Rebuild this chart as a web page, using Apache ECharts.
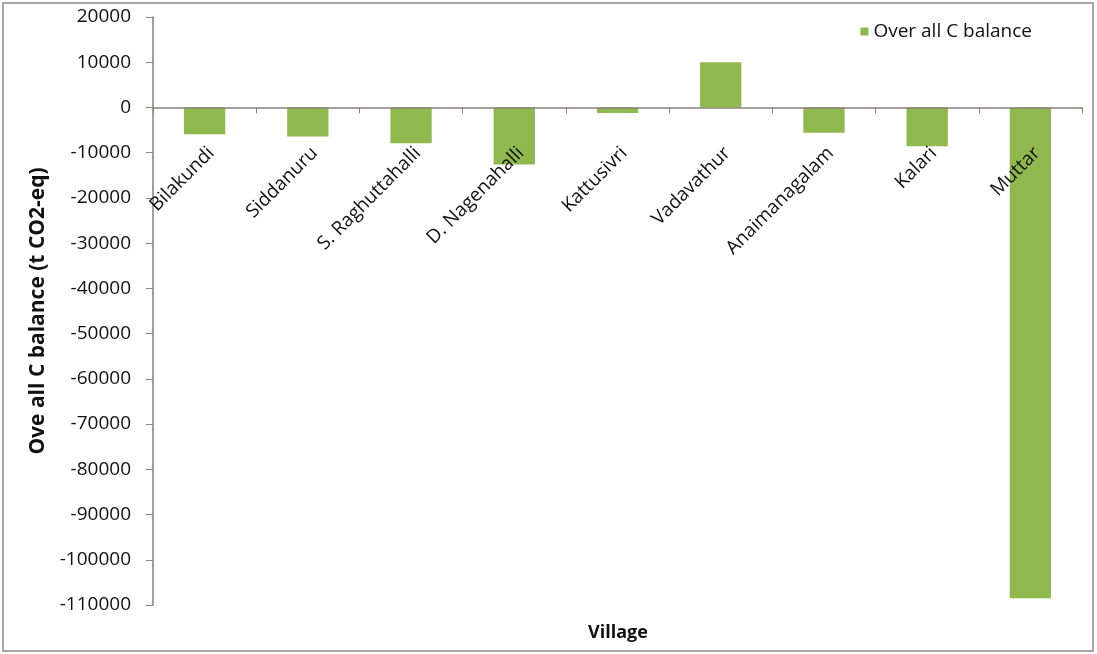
<!DOCTYPE html>
<html>
<head>
<meta charset="utf-8">
<script src="https://cdn.jsdelivr.net/npm/echarts@6/dist/echarts.min.js"></script>
<style>html,body{margin:0;padding:0;background:#fff}#c{width:1097px;height:654px}</style>
</head>
<body>
<div id="c"></div>
<script>
const villages = ['Bilakundi','Siddanuru','S. Raghuttahalli','D. Nagenahalli','Kattusivri','Vadavathur','Anaimanagalam','Kalari','Muttar'];
const balance = [-5900,-6400,-7900,-12600,-1200,10000,-5600,-8600,-108500];
const seriesName = 'Over all C balance';
const yTicks = {min:-110000, max:20000, interval:10000};

const FONT = 'Open Sans';
const W = 1097, H = 654;
const G = {left:153, right:15, top:17, bottom:49};
const plotH = H - G.top - G.bottom;
const zeroOffset = -plotH * (0 - yTicks.min) / (yTicks.max - yTicks.min);

const chart = echarts.init(document.getElementById('c'));
chart.setOption({
  backgroundColor:'#fff',
  textStyle:{fontFamily:FONT},
  title:{text:'Village', left:613, top:619, textAlign:'center',
    textStyle:{fontFamily:FONT,fontSize:18,fontWeight:'bold',color:'#111'}},
  legend:{right:60, top:17, icon:'rect', itemWidth:8, itemHeight:8, itemGap:6,
    textStyle:{fontFamily:FONT,fontSize:19,color:'#111'}, data:[seriesName]},
  grid:{left:G.left, right:G.right, top:G.top, bottom:G.bottom, containLabel:false},
  xAxis:{type:'category', data:villages, position:'bottom', offset:zeroOffset, z:5,
    axisLine:{onZero:false, lineStyle:{color:'#8a7f7f', width:1.5}},
    axisTick:{show:true, alignWithLabel:false, length:6, lineStyle:{color:'#8a7f7f'}},
    axisLabel:{rotate:45, interval:0, margin:36, verticalAlign:'top', fontFamily:FONT, fontSize:19, color:'#111'},
    splitLine:{show:false}},
  yAxis:{type:'value', min:yTicks.min, max:yTicks.max, interval:yTicks.interval,
    name:'Ove all C balance (t CO2-eq)', nameLocation:'middle', nameGap:98, nameRotate:90,
    nameTextStyle:{fontFamily:FONT,fontSize:21,fontWeight:'bold',color:'#111'},
    axisLine:{show:true, onZero:false, lineStyle:{color:'#8a7f7f', width:1.5}},
    axisTick:{show:true, length:7, lineStyle:{color:'#8a7f7f'}},
    axisLabel:{margin:22, fontFamily:FONT, fontSize:19, color:'#111', formatter:(v)=>String(v)},
    splitLine:{show:false}},
  series:[{name:seriesName, type:'bar', data:balance, barWidth:'40%', z:2,
    itemStyle:{color:'#8fb84e'}}],
  graphic:[{type:'rect', shape:{x:3,y:3,width:1090,height:648},
    style:{fill:'none', stroke:'#8c8c8c', lineWidth:1.5}, silent:true, z:100}]
});
</script>
</body>
</html>
